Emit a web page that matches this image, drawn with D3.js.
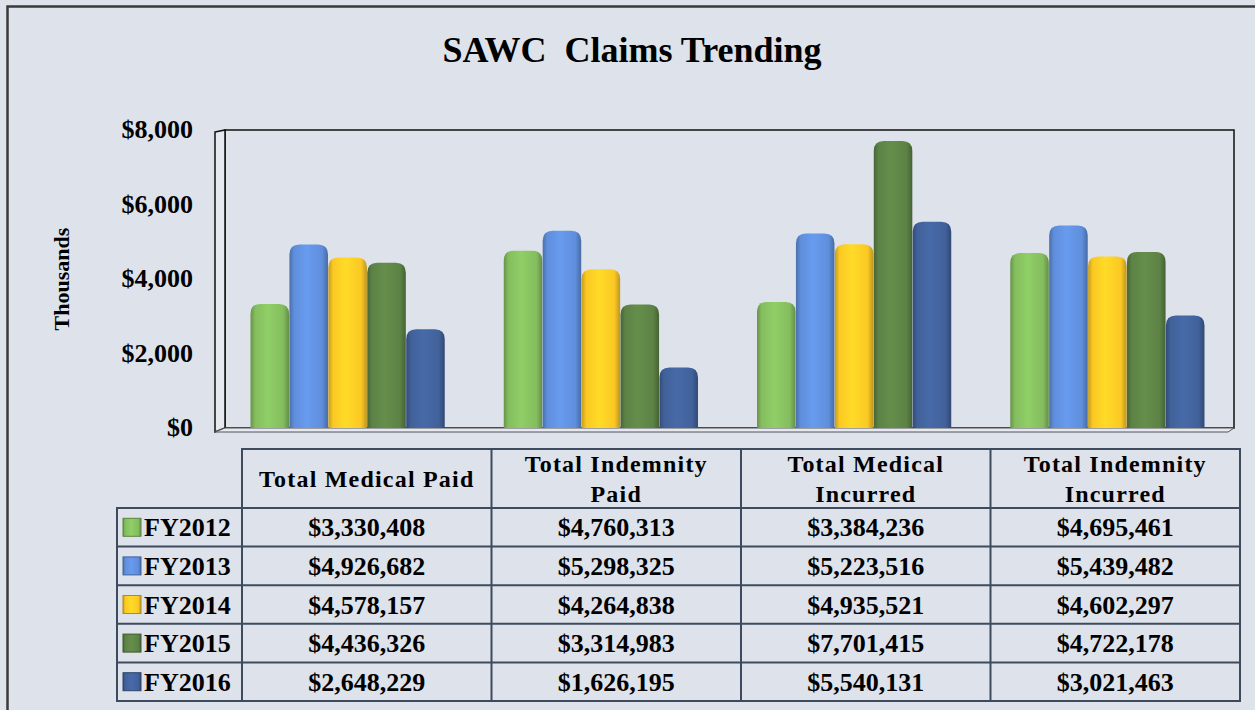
<!DOCTYPE html>
<html>
<head>
<meta charset="utf-8">
<script src="https://cdn.jsdelivr.net/npm/d3@7"></script>
<style>
  body { margin: 0; background: #dde2eb; }
  svg { display: block; font-family: "Liberation Serif", "Times New Roman", serif; font-weight: bold; }
</style>
</head>
<body>
<svg width="1255" height="710"></svg>
<script>
var categories = ["Total Medical Paid", "Total Indemnity Paid", "Total Medical Incurred", "Total Indemnity Incurred"];
var headerLines = [["Total Medical Paid"], ["Total Indemnity", "Paid"], ["Total Medical", "Incurred"], ["Total Indemnity", "Incurred"]];
var years = ["FY2012", "FY2013", "FY2014", "FY2015", "FY2016"];
var fy2012 = [3330408, 4760313, 3384236, 4695461];
var fy2013 = [4926682, 5298325, 5223516, 5439482];
var fy2014 = [4578157, 4264838, 4935521, 4602297];
var fy2015 = [4436326, 3314983, 7701415, 4722178];
var fy2016 = [2648229, 1626195, 5540131, 3021463];
var yTicks = [0, 2000, 4000, 6000, 8000];

var series = [fy2012, fy2013, fy2014, fy2015, fy2016];
var colors = ["#84bd5e", "#5f8edb", "#fbc824", "#5c8245", "#41619a"];

var svg = d3.select("svg"),
  width = +svg.attr("width"),
  height = +svg.attr("height");

// outer frame
svg.append("rect").attr("x", 0).attr("y", 0).attr("width", width).attr("height", height).attr("fill", "#dde2eb");
svg.append("path").attr("d", "M7.5,710 V6.5 H1255").attr("fill", "none").attr("stroke", "#3a3a3a").attr("stroke-width", 2.5);

svg.append("text")
  .attr("x", 632).attr("y", 62)
  .attr("text-anchor", "middle")
  .attr("font-size", 36)
  .attr("xml:space", "preserve")
  .text("SAWC  Claims Trending");

var plotL = 225, plotR = 1234, plotT = 130, plotB = 428;

var x = d3.scaleBand().domain(categories).range([plotL - 4, plotR]).paddingInner(0.23).paddingOuter(0.115);
var xs = d3.scaleBand().domain(years).range([0, x.bandwidth()]).padding(0.01);
var y = d3.scaleLinear().domain([0, 8000]).range([plotB, plotT]);

// gradients
var defs = svg.append("defs");
colors.forEach(function (c, i) {
  var g = defs.append("linearGradient").attr("id", "g" + i).attr("x1", 0).attr("x2", 1).attr("y1", 0).attr("y2", 0);
  var base = d3.color(c);
  g.append("stop").attr("offset", "0%").attr("stop-color", base.darker(0.7));
  g.append("stop").attr("offset", "12%").attr("stop-color", base);
  g.append("stop").attr("offset", "45%").attr("stop-color", base.brighter(0.25));
  g.append("stop").attr("offset", "85%").attr("stop-color", base);
  g.append("stop").attr("offset", "100%").attr("stop-color", base.darker(0.8));
});

// 3d walls
svg.append("rect").attr("x", plotL).attr("y", plotT).attr("width", plotR - plotL).attr("height", plotB - plotT)
  .attr("fill", "#dde2eb").attr("stroke", "#111").attr("stroke-width", 1.5);
svg.append("path").attr("d", "M215," + (plotT + 2) + " L" + plotL + "," + plotT + " V" + plotB + " L215," + (plotB + 4) + " Z")
  .attr("fill", "#e6e9f0").attr("stroke", "#111").attr("stroke-width", 1.5);
svg.append("path").attr("d", "M215," + (plotB + 4) + " L" + plotL + "," + plotB + " H" + plotR + " L" + (plotR - 6) + "," + (plotB + 4) + " Z")
  .attr("fill", "#e6e9f0").attr("stroke", "#555").attr("stroke-width", 1);

// y axis labels
svg.append("g").selectAll("text").data(yTicks).enter().append("text")
  .attr("x", 193).attr("y", function (d) { return y(d) + 8; })
  .attr("text-anchor", "end")
  .attr("font-size", 26)
  .text(function (d) { return "$" + d3.format(",")(d); });

svg.append("text")
  .attr("transform", "translate(69,279) rotate(-90)")
  .attr("text-anchor", "middle")
  .attr("font-size", 22)
  .text("Thousands");

// bars
function barPath(x0, w, yTop, yBot) {
  var r = Math.min(10, (yBot - yTop) / 2);
  return "M" + x0 + "," + yBot + " V" + (yTop + r) +
    " Q" + x0 + "," + yTop + " " + (x0 + r) + "," + yTop +
    " H" + (x0 + w - r) +
    " Q" + (x0 + w) + "," + yTop + " " + (x0 + w) + "," + (yTop + r) +
    " V" + yBot + " Z";
}

var groups = svg.append("g").selectAll("g").data(categories).enter().append("g")
  .attr("transform", function (d) { return "translate(" + x(d) + ",0)"; });

groups.selectAll("path").data(function (d, ci) {
  return series.map(function (s, si) { return { year: years[si], i: si, v: s[ci] / 1000 }; });
}).enter().append("path")
  .attr("d", function (d) { return barPath(xs(d.year), xs.bandwidth(), y(d.v), plotB); })
  .attr("fill", function (d) { return "url(#g" + d.i + ")"; });

// data table
var tL = 117, tC = 242, tR = 1240, tT = 449, hB = 508, rowH = 38.6;
var colW = (tR - tC) / 4;
var line = "#3e4b5e";
var table = svg.append("g");

table.append("path")
  .attr("d", "M" + tC + "," + hB + " V" + tT + " H" + tR + " V" + (hB + rowH * 5) + " H" + tL + " V" + hB + " H" + tR)
  .attr("fill", "none").attr("stroke", line).attr("stroke-width", 2);

d3.range(1, 5).forEach(function (i) {
  table.append("line").attr("x1", tC + colW * i).attr("x2", tC + colW * i).attr("y1", tT).attr("y2", hB + rowH * 5)
    .attr("stroke", line).attr("stroke-width", 2);
});
table.append("line").attr("x1", tC).attr("x2", tC).attr("y1", hB).attr("y2", hB + rowH * 5).attr("stroke", line).attr("stroke-width", 2);
d3.range(1, 5).forEach(function (i) {
  table.append("line").attr("x1", tL).attr("x2", tR).attr("y1", hB + rowH * i).attr("y2", hB + rowH * i)
    .attr("stroke", line).attr("stroke-width", 2);
});

headerLines.forEach(function (lines, i) {
  var cx = tC + colW * (i + 0.5);
  var t = table.append("text").attr("text-anchor", "middle").attr("font-size", 24).attr("letter-spacing", 1.2);
  lines.forEach(function (l, k) {
    var yy = lines.length == 1 ? 487 : 472 + k * 30;
    t.append("tspan").attr("x", cx).attr("y", yy).text(l);
  });
});

years.forEach(function (yr, r) {
  var cy = hB + rowH * (r + 0.5);
  table.append("rect").attr("x", 123).attr("y", cy - 9).attr("width", 18).attr("height", 18)
    .attr("fill", "url(#g" + r + ")").attr("stroke", d3.color(colors[r]).darker(1)).attr("stroke-width", 1);
  table.append("text").attr("x", 144).attr("y", cy + 9).attr("font-size", 26).text(yr);
  series[r].forEach(function (v, c) {
    table.append("text").attr("x", tC + colW * (c + 0.5)).attr("y", cy + 9)
      .attr("text-anchor", "middle").attr("font-size", 26)
      .text("$" + d3.format(",")(v));
  });
});
</script>
</body>
</html>
